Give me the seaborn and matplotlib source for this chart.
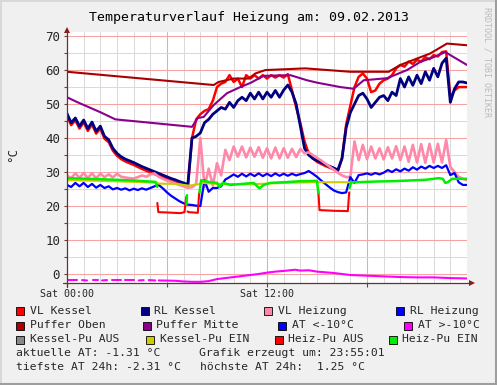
import numpy as np
import pandas as pd
import matplotlib
matplotlib.use("Agg")
import matplotlib.pyplot as plt
from matplotlib.patches import Rectangle, Polygon
from matplotlib.lines import Line2D
import seaborn as sns

NAN = np.nan

# time axis: hours after Sat 00:00, one reading every 15 minutes
quarter_hours = [i / 4 for i in range(97)]

vl_kessel = [
    46.5, 43.8, 45.2, 42.8, 44.6, 42.1, 44.0, 41.3, 42.8, 39.8, 38.8, 36.3,
    34.8, 33.8, 33.1, 32.6, 32.1, 31.5, 30.9, 30.4, 29.9, 29.4, 28.9, 28.4,
    27.9, 27.4, 26.9, 26.4, 26.0, 25.5, 40.0, 45.5, 47.0, 48.0, 48.5, 51.0,
    55.0, 56.0, 56.5, 58.5, 56.5, 57.5, 55.0, 58.5, 57.5, 58.5, 57.5, 58.5,
    57.5, 58.5, 57.8, 58.5, 57.8, 58.8, 54.0, 49.0, 44.4, 39.0, 35.5, 34.0,
    33.0, 32.4, 31.8, 31.3, 30.8, 30.2, 34.0, 44.0, 49.5, 55.0, 58.0, 59.0,
    57.5, 53.5, 54.0, 56.0, 57.0, 57.5, 58.5, 60.5, 61.5, 61.0, 62.5, 61.8,
    63.0, 62.5, 63.8, 63.2, 64.4, 64.0, 65.3, 65.5, 52.0, 54.0, 55.0, 55.0,
    55.0]

rl_kessel = [
    47.2, 44.5, 45.9, 43.5, 45.3, 42.8, 44.7, 42.0, 43.5, 40.5, 39.5, 37.0,
    35.5, 34.5, 33.8, 33.3, 32.8, 32.2, 31.6, 31.1, 30.6, 30.1, 29.6, 29.1,
    28.6, 28.1, 27.7, 27.2, 26.8, 26.3, 40.0, 40.5, 41.5, 44.5, 45.5, 47.0,
    48.0, 49.0, 48.5, 50.5, 49.0, 51.0, 52.0, 51.0, 53.2, 51.5, 53.5, 51.5,
    53.5, 52.0, 54.0, 52.0, 54.1, 55.6, 53.5, 50.0, 43.5, 37.0, 35.0, 34.0,
    33.4, 32.8, 32.2, 31.7, 31.2, 30.6, 34.0, 43.0, 47.5, 50.0, 52.5, 53.2,
    51.5, 49.0, 50.5, 52.0, 52.5, 51.0, 53.5, 52.5, 57.5, 55.0, 58.0, 55.5,
    58.5, 56.0, 59.5, 57.0, 60.5, 58.0, 62.0, 63.5, 50.5, 54.5, 56.5, 56.5,
    56.2]

vl_heizung = [
    29.0, 28.2, 29.6, 28.3, 29.7, 28.3, 29.6, 28.2, 29.5, 28.5, 29.3, 28.4,
    29.5, 28.6, 28.4, 28.2, 28.1, 28.5, 29.0, 28.6, 29.3, 29.6, 28.6, 28.0,
    27.5, 27.1, 26.6, 26.2, 25.8, 25.4, 25.5, 26.5, 40.0, 25.6, 31.0, 26.0,
    32.6, 29.0, 36.5, 33.5, 37.5, 34.5, 37.5, 34.3, 37.2, 34.5, 37.3, 34.2,
    37.0, 34.0, 37.2, 34.0, 37.0, 34.2, 36.8, 34.4, 36.8, 35.5, 35.8, 35.0,
    34.2, 33.4, 32.5, 31.6, 30.7, 29.8, 29.0, 28.5, 28.6, 39.0, 33.5, 38.0,
    33.8, 37.5, 34.0, 37.0, 33.7, 37.3, 34.0, 37.6, 33.5, 37.5, 33.0, 38.0,
    32.8, 38.2, 32.7, 38.3, 32.8, 38.3, 32.8, 39.4, 31.5, 30.0, 28.6, 28.0,
    27.6]

rl_heizung = [
    26.2, 25.6, 26.8, 25.8, 26.8, 25.6, 26.5, 25.4, 26.2, 25.3, 25.8, 24.9,
    25.3, 24.8, 25.2, 24.6, 25.1, 24.7, 25.2, 24.8, 25.3, 25.8, 26.2, 25.2,
    24.0, 23.0, 22.2, 21.4, 20.8, 20.4, 20.3, 20.1, 20.0, 27.6, 24.2, 25.3,
    25.3, 25.8, 27.8, 28.5, 29.3, 28.6, 29.5, 28.7, 29.5, 28.8, 29.6, 28.8,
    29.5, 28.8, 29.6, 28.9, 29.5, 28.9, 29.5, 29.0, 29.4, 29.7, 30.3, 29.5,
    28.6, 27.5, 26.5, 25.5, 24.6, 24.1, 23.8, 24.0, 28.5, 26.8, 29.1, 29.3,
    29.6, 29.2, 29.7, 29.3, 29.8, 30.6, 30.0, 30.8, 30.2, 31.0, 30.4, 31.4,
    30.7, 31.6, 31.0, 31.8, 31.2, 31.8, 31.2, 32.0, 29.1, 29.7, 27.0, 26.2,
    26.2]

puffer_oben_hours = [0, 8.8, 9.1, 10, 10.9, 11.3, 11.9, 14.3, 17, 19.3, 20, 21.8, 22.8, 24]
puffer_oben = [59.5, 55.6, 56.5, 57.5, 57.5, 59.0, 60.0, 60.5, 59.5, 59.5, 61.5, 64.9, 67.8, 67.3]

puffer_mitte_hours = [0, 0.6, 2, 2.9, 7.5, 7.85, 8.2, 8.8, 9.6, 10.4, 11, 11.8, 13.4,
                      14.4, 15, 16.4, 17.2, 17.8, 19.2, 20.4, 21.2, 22, 22.7, 23, 24]
puffer_mitte = [52.0, 50.6, 47.6, 45.5, 43.3, 45.9, 46.2, 49.7, 53.2, 55.0, 56.2, 58.3, 58.5,
                57.0, 56.3, 55.0, 54.5, 57.0, 57.6, 60.0, 62.4, 63.8, 65.3, 64.4, 61.5]

at_hours = [0.05, 0.6, 0.75, 0.9, 1.2, 1.4, 1.55, 1.85, 2.0, 2.1, 2.4, 2.55, 2.7, 3.25,
            3.35, 3.45, 4.0, 4.15, 4.3, 4.6, 4.75, 4.9, 5.3, 5.4, 5.5, 6.5, 7.0, 7.5,
            8.0, 8.5, 9.0, 9.5, 10, 10.5, 11, 11.5, 12, 12.5, 13, 13.7, 14, 14.5, 15,
            15.5, 16, 16.5, 17, 18, 19, 20, 21, 22, 22.5, 23, 24]
at_warm = [-1.8, -1.8, NAN, -1.8, -1.9, NAN, -1.9, -1.9, NAN, -1.9, -1.8, NAN, -1.9, -1.9,
           NAN, -1.9, -1.9, NAN, -1.9, -1.8, NAN, -1.8, -1.9, NAN, -1.9, -2.0, -2.2, -2.3,
           -2.31, -2.1, -1.5, -1.2, -0.9, -0.6, -0.3, 0.0, 0.4, 0.7, 0.9, 1.25, 1.0, 1.1, 0.7,
           0.5, 0.3, 0.0, -0.3, -0.5, -0.7, -0.9, -1.0, -1.0, -1.1, -1.2, -1.31]

kessel_ein_hours = [0, 2, 4, 5.4, 5.5, 6.5, 7.0, 7.3, 7.9, 8.1, 9, 11, 13, 15.0, 15.2, 17.0, 17.3]
kessel_ein = [27.6, 27.4, 27.1, 26.9, 26.6, 26.5, 26.2, 26.0, 26.4, 26.8, 26.5, 26.4, 26.8,
              27.0, 27.0, 27.0, 27.0]

heiz_aus_hours = [5.42, 5.48, 6.0, 6.8, 7.05, 7.15, 7.19, 7.23, 7.3, 7.85, 7.93, 11,
                  15.08, 15.15, 16.0, 16.85, 16.93]
heiz_aus = [20.9, 18.2, 18.1, 17.9, 18.2, 22.6, NAN, 18.4, 18.2, 18.0, 23.8, NAN,
            24.5, 18.8, 18.6, 18.5, 24.0]

heiz_ein_hours = [0, 2, 4, 5.3, 5.42, 6, 7.17, 7.2, 7.5, 7.95, 8.05, 8.6, 9.0, 9.15, 9.35,
                  9.8, 10.5, 11.2, 11.55, 11.8, 12.2, 13, 14, 15.0, 15.08, 16,
                  16.95, 17.05, 17.4, 18.5, 19.5, 20.5, 21.5, 22.3, 22.55, 22.7, 22.85,
                  23.1, 24]
heiz_ein = [28.2, 27.9, 27.5, 27.1, 25.6, NAN, 20.5, 23.2, NAN, 24.0, 27.6, 27.0, 26.8, 25.6,
            26.8, 26.2, 26.5, 26.8, 25.2, 26.2, 26.8, 27.0, 27.3, 27.4, 23.8, NAN,
            25.3, 27.0, 27.0, 27.2, 27.3, 27.5, 27.7, 28.2, 28.0, 26.8, 27.0, 28.0, 28.0]

legend_names = ["VL Kessel", "RL Kessel", "VL Heizung", "RL Heizung",
                "Puffer Oben", "Puffer Mitte", "AT <-10°C", "AT >-10°C",
                "Kessel-Pu AUS", "Kessel-Pu EIN", "Heiz-Pu AUS", "Heiz-Pu EIN"]
legend_colors = ["#ff0000", "#000080", "#ff88aa", "#0000ff",
                 "#aa0000", "#8b008b", "#0000ff", "#ff00ff",
                 "#888888", "#cccc00", "#ff0000", "#00ee00"]

title = "Temperaturverlauf Heizung am: 09.02.2013"
info_lines = [("aktuelle AT: -1.31 °C", "Grafik erzeugt um: 23:55:01"),
              ("tiefste AT 24h: -2.31 °C", "höchste AT 24h:  1.25 °C")]

W, H = 497, 385


def fx(x):
    return x / W


def fy(y):
    return 1 - y / H


sns.set_theme(style="white")
plt.rcParams['font.family'] = ['DejaVu Sans Mono', 'DejaVu Sans']

fig = plt.figure(figsize=(W / 100, H / 100), dpi=100, facecolor='#f0f0f0')
ax = fig.add_axes([fx(67), fy(283), 400 / W, 251 / H])
ax.set_facecolor('white')

# draw order as in the rrd graph definition
series = [
    (quarter_hours, vl_kessel, legend_colors[0], 1.8),
    (quarter_hours, rl_kessel, legend_colors[1], 2.0),
    (quarter_hours, vl_heizung, legend_colors[2], 1.9),
    (quarter_hours, rl_heizung, legend_colors[3], 1.6),
    (puffer_oben_hours, puffer_oben, legend_colors[4], 1.5),
    (puffer_mitte_hours, puffer_mitte, legend_colors[5], 1.5),
    (at_hours, at_warm, legend_colors[7], 1.5),
    (kessel_ein_hours, kessel_ein, legend_colors[9], 1.5),
    (heiz_aus_hours, heiz_aus, legend_colors[10], 1.5),
    (heiz_ein_hours, heiz_ein, legend_colors[11], 1.8),
]

for hrs, vals, color, lw in series:
    df = pd.DataFrame({'hour': hrs, 'temp': vals})
    df['seg'] = df['temp'].isna().cumsum()
    df = df.dropna()
    sns.lineplot(data=df, x='hour', y='temp', units='seg', estimator=None,
                 color=color, lw=lw, ax=ax, legend=False, sort=False)

ax.set_xlim(0, 24)
ax.set_ylim(-2.65, 71.2)
ax.set_xlabel('')
ax.set_ylabel('')
for s in ax.spines.values():
    s.set_visible(False)

ax.set_xticks([0, 6, 12, 18])
ax.set_xticklabels(['Sat 00:00', '', 'Sat 12:00', ''])
ax.set_xticks(range(0, 24), minor=True)
ax.set_yticks(range(0, 71, 10))
ax.set_yticks(range(5, 71, 10), minor=True)
ax.grid(which='minor', color='#dadada', lw=0.75)
ax.grid(which='major', color='#f5a3a3', lw=0.75)
ax.set_axisbelow(True)
ax.tick_params(axis='x', which='major', length=3, width=0.8, color='#6a4040',
               pad=1.5, labelsize=7.2, direction='out', bottom=True)
ax.tick_params(axis='x', which='minor', length=0)
ax.tick_params(axis='y', which='both', length=2, width=0.8, color='#6a4040',
               pad=3, labelsize=9, direction='out', left=True)

# axes with arrows
axis_col = '#5e3434'
arrow_col = '#8b1a1a'
fig.add_artist(Line2D([fx(67), fx(67)], [fy(287), fy(31)], color=axis_col, lw=0.9))
fig.add_artist(Line2D([fx(63), fx(470)], [fy(283), fy(283)], color=axis_col, lw=0.9))
fig.add_artist(Polygon([(fx(64), fy(33)), (fx(70), fy(33)), (fx(67), fy(27))],
                       closed=True, transform=fig.transFigure, color=arrow_col, lw=0))
fig.add_artist(Polygon([(fx(469), fy(280)), (fx(469), fy(286)), (fx(475), fy(283))],
                       closed=True, transform=fig.transFigure, color=arrow_col, lw=0))

# texts
fig.text(fx(249), fy(17), title, ha='center', va='center', fontsize=9.5, color='black')
fig.text(fx(13), fy(155), '°C', rotation=90, ha='center', va='center', fontsize=9)
fig.text(fx(487), fy(7), 'RRDTOOL / TOBI OETIKER', rotation=270, ha='center', va='top',
         fontsize=6, color='#bbbbbb')

# legend (rrdtool style, centered rows)
row_y = [311, 325.5, 339.5]
square_x = [[16, 141, 264, 396], [16, 143, 278, 404], [16, 146, 275, 389]]
for i, (name, color) in enumerate(zip(legend_names, legend_colors)):
    r, c = divmod(i, 4)
    x0, y0 = square_x[r][c], row_y[r]
    fig.add_artist(Rectangle((fx(x0), fy(y0 + 4)), 8 / W, 8 / H, transform=fig.transFigure,
                             facecolor=color, edgecolor='black', lw=0.6))
    fig.text(fx(x0 + 13.5), fy(y0), name, ha='left', va='center', fontsize=8.2)

for (left, right), y, xr in zip(info_lines, [353, 367], [199, 200]):
    fig.text(fx(16), fy(y), left, ha='left', va='center', fontsize=8.2)
    fig.text(fx(xr), fy(y), right, ha='left', va='center', fontsize=8.2)

# frame shading
fig.add_artist(Line2D([0, 1], [fy(0.5), fy(0.5)], color='#d8d8d8', lw=1.4))
fig.add_artist(Line2D([fx(0.5), fx(0.5)], [0, 1], color='#d8d8d8', lw=1.4))
fig.add_artist(Line2D([0, 1], [fy(384), fy(384)], color='#9e9e9e', lw=1.5))
fig.add_artist(Line2D([fx(496), fx(496)], [0, 1], color='#9e9e9e', lw=1.5))

fig.savefig('out.png', dpi=100, facecolor=fig.get_facecolor())
